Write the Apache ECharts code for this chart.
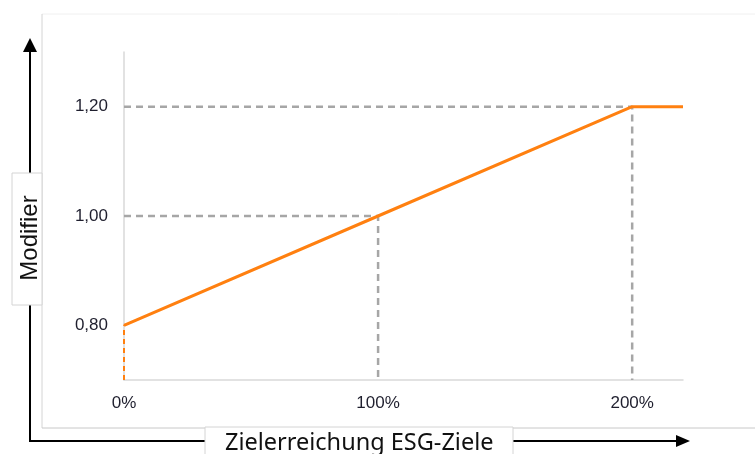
<!DOCTYPE html>
<html>
<head>
<meta charset="utf-8">
<script src="https://cdn.jsdelivr.net/npm/echarts@6/dist/echarts.min.js"></script>
<style>
  html, body { margin: 0; padding: 0; background: #fff; }
  #main { width: 755px; height: 454px; }
</style>
</head>
<body>
<div id="main"></div>
<script>
// Zielerreichung in %, Modifier
var zielerreichung = [0, 100, 200, 220];
var modifier = [0.80, 1.00, 1.20, 1.20];

// Hilfslinien (gestrichelt)
var refX = [100, 200];
var refY = [1.00, 1.20];

// Achsenbeschriftung
var xTickLabels = [0, 100, 200];
var yTickLabels = ['0,80', '1,00', '1,20'];

var yMin = 0.7;
var grey = '#a6a6a6';
var orange = '#ff8010';

var myChart = echarts.init(document.getElementById('main'));

// Gestrichelte Linien aus den Hilfswerten
var dashSeries = [];
for (var i = 0; i < refX.length; i++) {
    dashSeries.push({
        type: 'line',
        data: [[0, refY[i]], [refX[i], refY[i]], [refX[i], yMin]],
        symbol: 'none',
        silent: true,
        lineStyle: { color: grey, width: 2.5, type: [7, 5] },
        z: 2
    });
}

var option = {
    animation: false,
    grid: { left: 124, right: 72, top: 52, bottom: 74 },
    xAxis: {
        type: 'value',
        min: 0,
        max: 220,
        interval: 10,
        axisLine: { show: true, lineStyle: { color: '#d9d9d9', width: 1.5 } },
        axisTick: { show: false },
        splitLine: { show: false },
        axisLabel: {
            margin: 15,
            color: '#1f1f2e',
            fontSize: 17,
            fontFamily: 'Liberation Sans',
            formatter: function (v) {
                return xTickLabels.indexOf(Math.round(v)) >= 0 ? Math.round(v) + '%' : '';
            }
        }
    },
    yAxis: {
        type: 'value',
        min: yMin,
        max: 1.3,
        interval: 0.1,
        axisLine: { show: true, lineStyle: { color: '#d9d9d9', width: 1.5 } },
        axisTick: { show: false },
        splitLine: { show: false },
        axisLabel: {
            margin: 16,
            color: '#1f1f2e',
            fontSize: 17,
            fontFamily: 'Liberation Sans',
            formatter: function (v) {
                var s = v.toFixed(2).replace('.', ',');
                return yTickLabels.indexOf(s) >= 0 ? s : '';
            }
        }
    },
    series: dashSeries.concat([
        {
            // kurzes Stück unter 0,80
            type: 'line',
            data: [[zielerreichung[0], yMin], [zielerreichung[0], modifier[0]]],
            symbol: 'none',
            silent: true,
            lineStyle: { color: orange, width: 2, type: [5, 4] },
            z: 3
        },
        {
            type: 'line',
            data: zielerreichung.map(function (x, k) { return [x, modifier[k]]; }),
            symbol: 'none',
            lineStyle: { color: orange, width: 3 },
            z: 4
        }
    ]),
    graphic: [
        // äußerer Rahmen
        { type: 'line', shape: { x1: 42, y1: 14, x2: 755, y2: 14 }, style: { stroke: '#f0f0f0', lineWidth: 1 } },
        { type: 'line', shape: { x1: 42, y1: 14, x2: 42, y2: 428 }, style: { stroke: '#d4d4d4', lineWidth: 1 } },
        { type: 'line', shape: { x1: 42, y1: 428, x2: 755, y2: 428 }, style: { stroke: '#c8c8c8', lineWidth: 1 } },
        // Pfeile
        { type: 'polyline', shape: { points: [[30, 50], [30, 441], [678, 441]] }, style: { stroke: '#000', lineWidth: 2, fill: null } },
        { type: 'polygon', shape: { points: [[30, 38], [23, 52], [37, 52]] }, style: { fill: '#000' } },
        { type: 'polygon', shape: { points: [[690, 441], [676, 435], [676, 447]] }, style: { fill: '#000' } },
        // Beschriftung y
        { type: 'rect', shape: { x: 12, y: 173, width: 30, height: 132 }, style: { fill: '#fff', stroke: '#d4d4d4', lineWidth: 1 }, z: 10 },
        {
            type: 'text', x: 30, y: 238, rotation: Math.PI / 2, z: 11,
            style: { text: 'Modifier', fontSize: 24, fontFamily: 'Liberation Sans', fill: '#111', align: 'center', verticalAlign: 'middle' }
        },
        // Beschriftung x
        { type: 'rect', shape: { x: 205, y: 427, width: 308, height: 40 }, style: { fill: '#fff', stroke: '#d4d4d4', lineWidth: 1 }, z: 10 },
        {
            type: 'text', x: 225, y: 443, z: 11,
            style: { text: 'Zielerreichung ESG-Ziele', fontSize: 23.5, fontFamily: 'Noto Sans', fill: '#111', align: 'left', verticalAlign: 'middle' }
        }
    ]
};

myChart.setOption(option);
window.onresize = myChart.resize;
</script>
</body>
</html>
